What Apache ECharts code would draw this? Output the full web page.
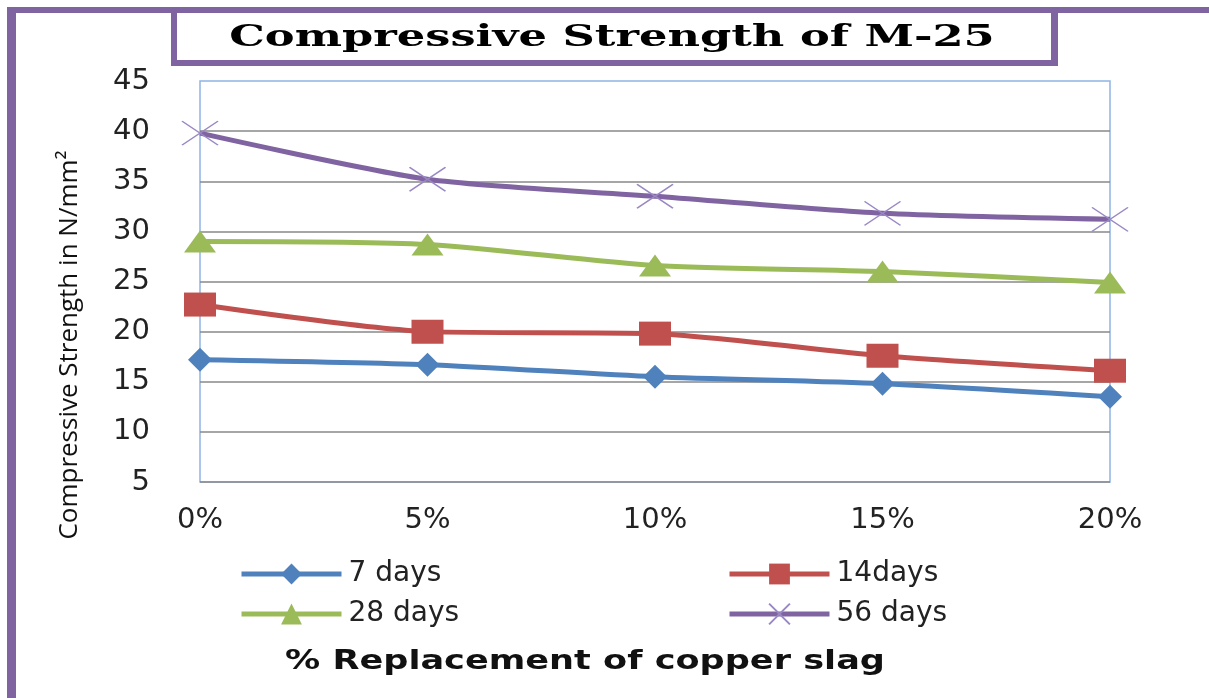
<!DOCTYPE html>
<html>
<head>
<meta charset="utf-8">
<script src="https://cdn.jsdelivr.net/npm/echarts@6/dist/echarts.min.js"></script>
<style>
  html, body { margin: 0; padding: 0; background: #fff; }
  #chart { width: 1209px; height: 698px; }
</style>
</head>
<body>
<div id="chart"></div>
<script>
// 数据
const categories = ['0%', '5%', '10%', '15%', '20%']
const days7 = [17.2, 16.7, 15.5, 14.8, 13.5]
const days14 = [22.7, 20.0, 19.8, 17.6, 16.1]
const days28 = [29.0, 28.7, 26.6, 26.0, 24.9]
const days56 = [39.8, 35.2, 33.5, 31.8, 31.2]
const seriesNames = ['7 days', '14days', '28 days', '56 days']

const purple = '#8064A2'
const labelFont = "'DejaVu Sans', Verdana, sans-serif"

const chart = echarts.init(document.getElementById('chart'))

const crossPath = 'path://M0,0L10,10M10,0L0,10'

function lineSeries(name, data, color, symbol, size, extra) {
  return Object.assign({
    name: name,
    type: 'line',
    smooth: 0.25,
    data: data,
    symbol: symbol,
    symbolSize: size,
    itemStyle: { color: color },
    lineStyle: { color: color, width: 5 },
    z: 3
  }, extra || {})
}

// 图例：每项单独定位
function legendItem(name, left, top) {
  return {
    data: [name],
    left: left,
    top: top,
    padding: 0,
    itemWidth: 100,
    itemHeight: 26,
    lineStyle: { width: 5 },
    textStyle: { fontFamily: labelFont, fontSize: 28, color: '#222', padding: [0, 0, 0, 2] }
  }
}

chart.setOption({
  animation: false,
  backgroundColor: '#fff',
  legend: [
    legendItem(seriesNames[0], 239, 560),
    legendItem(seriesNames[1], 727, 560),
    legendItem(seriesNames[2], 239, 600),
    legendItem(seriesNames[3], 727, 600)
  ],
  grid: {
    left: 200,
    right: 99,
    top: 81,
    bottom: 216,
    show: true,
    borderColor: '#8EB4E3',
    borderWidth: 1.5,
    backgroundColor: 'transparent'
  },
  xAxis: {
    type: 'category',
    data: categories,
    boundaryGap: false,
    axisLine: { show: false },
    axisTick: { show: false },
    axisLabel: { fontFamily: labelFont, fontSize: 29, color: '#222', margin: 24 },
    splitLine: { show: false }
  },
  yAxis: {
    type: 'value',
    min: 5,
    max: 45,
    interval: 5,
    axisLine: { show: false },
    axisTick: { show: false },
    axisLabel: { fontFamily: labelFont, fontSize: 29, color: '#222', margin: 50 },
    splitLine: {
      show: true,
      lineStyle: { color: ['#888', '#888', '#888', '#888', '#888', '#888', '#888', '#888', 'rgba(0,0,0,0)'], width: 1.5 }
    }
  },
  graphic: [
    // 外框
    { type: 'rect', shape: { x: 7, y: 7, width: 9, height: 700 }, style: { fill: purple }, z: 10 },
    { type: 'rect', shape: { x: 7, y: 7, width: 1210, height: 6 }, style: { fill: purple }, z: 10 },
    // 标题框
    { type: 'rect', shape: { x: 171, y: 7, width: 6, height: 59 }, style: { fill: purple }, z: 10 },
    { type: 'rect', shape: { x: 1051, y: 7, width: 7, height: 59 }, style: { fill: purple }, z: 10 },
    { type: 'rect', shape: { x: 171, y: 60, width: 887, height: 6 }, style: { fill: purple }, z: 10 },
    // 标题
    {
      type: 'text',
      x: 612,
      y: 38,
      scaleX: 1.49,
      style: {
        text: 'Compressive Strength of M-25',
        fontFamily: "'DejaVu Serif', 'Liberation Serif', serif",
        fontWeight: 'bold',
        fontSize: 30,
        fill: '#000',
        align: 'center',
        verticalAlign: 'middle'
      },
      z: 10
    },
    // Y 轴名称
    {
      type: 'text',
      x: 70,
      y: 345,
      rotation: Math.PI / 2,
      style: {
        text: 'Compressive Strength in N/mm²',
        fontFamily: "'Liberation Sans Narrow', 'Open Sans', sans-serif",
        fontSize: 26,
        fill: '#111',
        align: 'center',
        verticalAlign: 'middle'
      },
      z: 10
    },
    // X 轴名称
    {
      type: 'text',
      x: 585,
      y: 662,
      scaleX: 1.3,
      style: {
        text: '% Replacement of copper slag',
        fontFamily: "'DejaVu Sans', sans-serif",
        fontWeight: 'bold',
        fontSize: 27,
        fill: '#111',
        align: 'center',
        verticalAlign: 'middle'
      },
      z: 10
    }
  ],
  series: [
    lineSeries(seriesNames[0], days7, '#4F81BD', 'diamond', [24, 24]),
    lineSeries(seriesNames[1], days14, '#C0504D', 'rect', [32, 24]),
    lineSeries(seriesNames[2], days28, '#9BBB59', 'triangle', [32, 22]),
    lineSeries(seriesNames[3], days56, purple, crossPath, [36, 24], {
      itemStyle: { color: 'rgba(0,0,0,0)', borderColor: '#9A88C4', borderWidth: 1.5 }
    })
  ]
})
</script>
</body>
</html>
